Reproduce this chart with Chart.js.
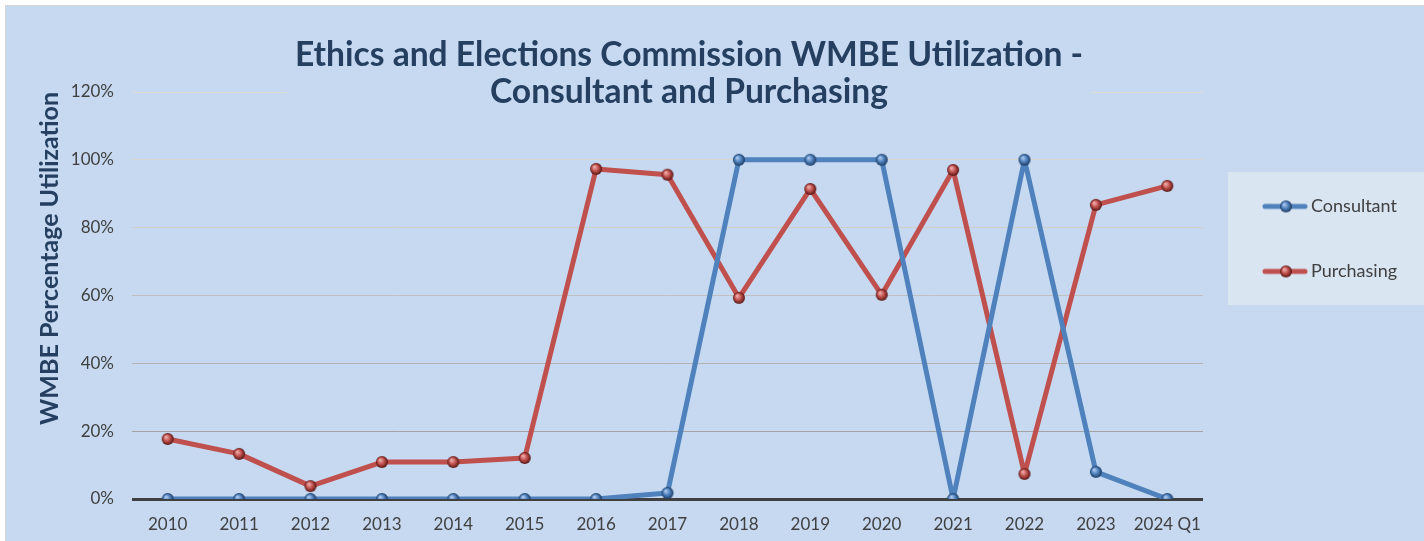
<!DOCTYPE html>
<html>
<head>
<meta charset="utf-8">
<script src="https://cdn.jsdelivr.net/npm/chart.js@4.4.1/dist/chart.umd.min.js"></script>
<style>
  html, body { margin: 0; padding: 0; background: #ffffff; }
  #wrap {
    position: absolute; left: 5px; top: 5px;
    width: 1418px; height: 535px;
    border-left: 1px solid #d4d4d4; border-top: 1px solid #d4d4d4;
    background: #c6d9f0;
  }
  canvas { display: block; }
</style>
</head>
<body>
<div id="wrap"><canvas id="wmbe_chart" width="1418" height="535"></canvas></div>
<script>
const years = ["2010", "2011", "2012", "2013", "2014", "2015", "2016", "2017",
  "2018", "2019", "2020", "2021", "2022", "2023", "2024 Q1"];
const consultant = [0, 0, 0, 0, 0, 0, 0, 1.8, 100, 100, 100, 0, 100, 8, 0];
const purchasing = [17.7, 13.3, 3.8, 10.9, 10.9, 12.1, 97.3, 95.6, 59.3, 91.4, 60.2, 97, 7.4, 86.7, 92.3];
const yTicks = [0, 20, 40, 60, 80, 100, 120];

const BLUE = "#4f81bd";
const RED = "#c0504d";
const FONT = "Lato, 'Open Sans', sans-serif";
const TITLE_FONT = "bold 33.6px " + FONT;

// little shaded balls for the markers
const makeSphere = (light, base, dark, r) => {
  const c = document.createElement("canvas");
  c.width = c.height = r * 2 + 2;
  const g = c.getContext("2d");
  const cx = r + 1, cy = r + 1;
  const grad = g.createRadialGradient(cx - r * 0.3, cy - r * 0.35, r * 0.1, cx, cy, r);
  grad.addColorStop(0, light);
  grad.addColorStop(0.5, base);
  grad.addColorStop(1, dark);
  g.fillStyle = grad;
  g.beginPath();
  g.arc(cx, cy, r, 0, Math.PI * 2);
  g.fill();
  return c;
};

// legend marker: line with the ball in the middle, shifted right inside a wider canvas
const makeLegendMark = (color, ball) => {
  const c = document.createElement("canvas");
  c.width = 64;
  c.height = 14;
  const g = c.getContext("2d");
  g.strokeStyle = color;
  g.lineWidth = 5;
  g.lineCap = "round";
  g.beginPath();
  g.moveTo(21, 7);
  g.lineTo(61, 7);
  g.stroke();
  g.drawImage(ball, 42 - ball.width / 2, 7 - ball.height / 2);
  return c;
};

const blueBall = makeSphere("#a9c6ec", BLUE, "#1a3960", 6);
const redBall = makeSphere("#eeaaa8", RED, "#561412", 6);
const legendMarks = [makeLegendMark(BLUE, blueBall), makeLegendMark(RED, redBall)];

const gridColors = { 0: "#404040", 20: "#a3a3a3", 40: "#b2b2b2", 60: "#c0c0c0", 80: "#cfcfca", 100: "#d6d6cf", 120: "rgba(0,0,0,0)" };

const chromePlugin = {
  id: "chrome",
  afterLayout(chart) {
    // title sits a bit left of the full width centre
    const t = chart.titleBlock;
    t.right -= 31;
    t.width -= 31;
  },
  beforeDraw(chart) {
    const { ctx, chartArea } = chart;
    ctx.save();
    ctx.fillStyle = "#dae5f2";
    ctx.fillRect(chartArea.right + 25, 166, chart.width - chartArea.right - 25, 133);
    ctx.restore();
  },
  beforeDatasetsDraw(chart) {
    // 120% gridline, broken where the title sits
    const { ctx, chartArea, scales, titleBlock } = chart;
    const y = Math.round(scales.y.getPixelForValue(120)) + 0.5;
    ctx.save();
    ctx.font = TITLE_FONT;
    const w = Math.max(...titleBlock.options.text.map((t) => ctx.measureText(t).width));
    const mid = titleBlock.left + titleBlock.width / 2;
    ctx.strokeStyle = "#dcdcd6";
    ctx.lineWidth = 1;
    ctx.beginPath();
    ctx.moveTo(chartArea.left, y);
    ctx.lineTo(mid - w / 2 - 8, y);
    ctx.moveTo(mid + w / 2 + 8, y);
    ctx.lineTo(chartArea.right, y);
    ctx.stroke();
    ctx.restore();
  },
};

new Chart("wmbe_chart", {
  type: "line",
  data: {
    labels: years,
    datasets: [
      {
        label: "Consultant",
        data: consultant,
        borderColor: BLUE,
        backgroundColor: BLUE,
        borderWidth: 5,
        borderJoinStyle: "round",
        pointStyle: blueBall,
        tension: 0,
      },
      {
        label: "Purchasing",
        data: purchasing,
        borderColor: RED,
        backgroundColor: RED,
        borderWidth: 5,
        borderJoinStyle: "round",
        pointStyle: redBall,
        tension: 0,
      },
    ],
  },
  options: {
    responsive: false,
    animation: false,
    layout: { padding: { top: 0, right: 21, bottom: 0, left: 0 } },
    plugins: {
      tooltip: { enabled: false },
      title: {
        display: true,
        text: ["Ethics and Elections Commission WMBE Utilization -", "Consultant and Purchasing"],
        color: "#243f60",
        font: { family: FONT, size: 33.6, weight: "bold", lineHeight: 1.1 },
        padding: { top: 31, bottom: -19 },
      },
      legend: {
        position: "right",
        align: "start",
        maxWidth: 200,
        title: { display: true, text: "", padding: { top: 130, bottom: 0 } },
        labels: {
          usePointStyle: true,
          pointStyleWidth: 52,
          padding: 47,
          color: "#404040",
          font: { family: FONT, size: 18 },
          generateLabels: (chart) =>
            Chart.defaults.plugins.legend.labels.generateLabels(chart).map((item, i) => ({
              ...item,
              pointStyle: legendMarks[i],
            })),
        },
      },
    },
    scales: {
      x: {
        offset: true,
        grid: { display: false, drawTicks: false },
        border: { display: false },
        ticks: {
          color: "#404040",
          font: { family: FONT, size: 17 },
          padding: 15,
          maxRotation: 0,
          minRotation: 0,
          autoSkip: false,
        },
        afterFit: (scale) => { scale.height = 42; },
      },
      y: {
        min: 0,
        max: 120,
        afterBuildTicks: (scale) => { scale.ticks = yTicks.map((v) => ({ value: v })); },
        grid: {
          drawTicks: false,
          color: (ctx) => gridColors[ctx.tick.value],
          lineWidth: (ctx) => (ctx.tick.value === 0 ? 3 : 1),
        },
        border: { display: false },
        ticks: {
          color: "#404040",
          font: { family: FONT, size: 17 },
          padding: 18,
          callback: (v) => v + "%",
        },
        title: {
          display: true,
          text: "WMBE Percentage Utilization",
          align: "end",
          color: "#243f60",
          font: { family: FONT, size: 25, weight: "bold" },
          padding: { top: 29, bottom: 0 },
        },
        afterFit: (scale) => { scale.width = 126; },
      },
    },
  },
  plugins: [chromePlugin],
});
</script>
</body>
</html>
